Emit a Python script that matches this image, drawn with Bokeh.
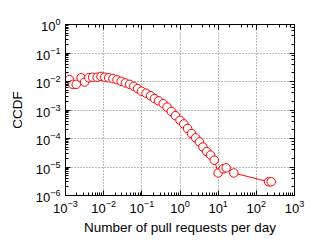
from bokeh.plotting import figure
from bokeh.models import LogAxis, Range1d, CustomJSTickFormatter
from bokeh.embed import file_html
from bokeh.resources import INLINE

# Number of pull requests per day (x) and CCDF (y)
prs_per_day = [0.00126, 0.00155, 0.00191, 0.00257, 0.00316, 0.00407, 0.00513, 0.00676,
               0.00851, 0.0107, 0.0135, 0.0174, 0.0224, 0.0288, 0.0372, 0.0479, 0.0617,
               0.0776, 0.0977, 0.129, 0.170, 0.214, 0.275, 0.363, 0.457, 0.589, 0.759,
               1.0, 1.26, 1.58, 2.0, 2.57, 3.24, 3.98, 5.01, 6.31, 7.94, 10.0, 13.5,
               16.2, 25.7, 209.0, 245.0]
ccdf = [0.0117, 0.00794, 0.00794, 0.0135, 0.00955, 0.0135, 0.0141, 0.0141, 0.0151,
        0.0141, 0.0135, 0.0126, 0.0115, 0.0102, 0.00891, 0.00794, 0.00676, 0.00562,
        0.00457, 0.00389, 0.00316, 0.00251, 0.00209, 0.00166, 0.00126, 0.000891,
        0.000631, 0.000437, 0.000324, 0.000224, 0.000148, 0.000105, 7.59e-5, 5.01e-5,
        3.47e-5, 2.63e-5, 1.74e-5, 6.17e-6, 8.71e-6, 9.33e-6, 6.17e-6, 3.02e-6, 3.02e-6]

x_label = "Number of pull requests per day"
y_label = "CCDF"

FONT = "Liberation Sans"

p = figure(width=319, height=237, x_axis_type="log", y_axis_type="log",
           x_range=Range1d(1e-3, 1e3), y_range=Range1d(1e-6, 1e0),
           output_backend="svg", toolbar_location=None,
           min_border_left=65, min_border_right=25, min_border_top=24, min_border_bottom=42)

p.outline_line_color = "black"
p.outline_line_width = 1
p.background_fill_color = "white"
p.border_fill_color = "white"

for ax in (p.xaxis[0], p.yaxis[0]):
    ax.major_label_text_font = FONT
    ax.major_label_text_font_size = "13px"
    ax.major_label_text_color = "black"
    ax.axis_label_text_font = FONT
    ax.axis_label_text_font_size = "13.5px"
    ax.axis_label_text_font_style = "normal"
    ax.axis_label_text_color = "black"
    ax.axis_line_color = "black"
    ax.major_tick_in = 5
    ax.major_tick_out = 0
    ax.minor_tick_in = 3
    ax.minor_tick_out = 0
    ax.major_tick_line_color = "black"
    ax.minor_tick_line_color = "black"

p.xaxis.axis_label = x_label
p.yaxis.axis_label = y_label
p.xaxis.major_label_standoff = 4
p.yaxis.major_label_standoff = 5
p.xaxis.axis_label_standoff = 4
p.yaxis.axis_label_standoff = 8

for loc in ("above", "right"):
    ax = LogAxis(formatter=CustomJSTickFormatter(code="return '';"))
    ax.major_label_standoff = 0
    ax.major_tick_in = 5
    ax.major_tick_out = 0
    ax.minor_tick_in = 3
    ax.minor_tick_out = 0
    ax.axis_line_color = "black"
    p.add_layout(ax, loc)

p.xgrid.grid_line_color = "#777777"
p.ygrid.grid_line_color = "#777777"
p.xgrid.grid_line_dash = "1 2"
p.ygrid.grid_line_dash = "1 2"

p.line(prs_per_day, ccdf, line_color="red", line_width=1)
p.scatter(prs_per_day, ccdf, marker="circle", size=8.5, fill_color="white",
          line_color="red", line_width=1)

open("out.html", "w").write(file_html(p, INLINE))
